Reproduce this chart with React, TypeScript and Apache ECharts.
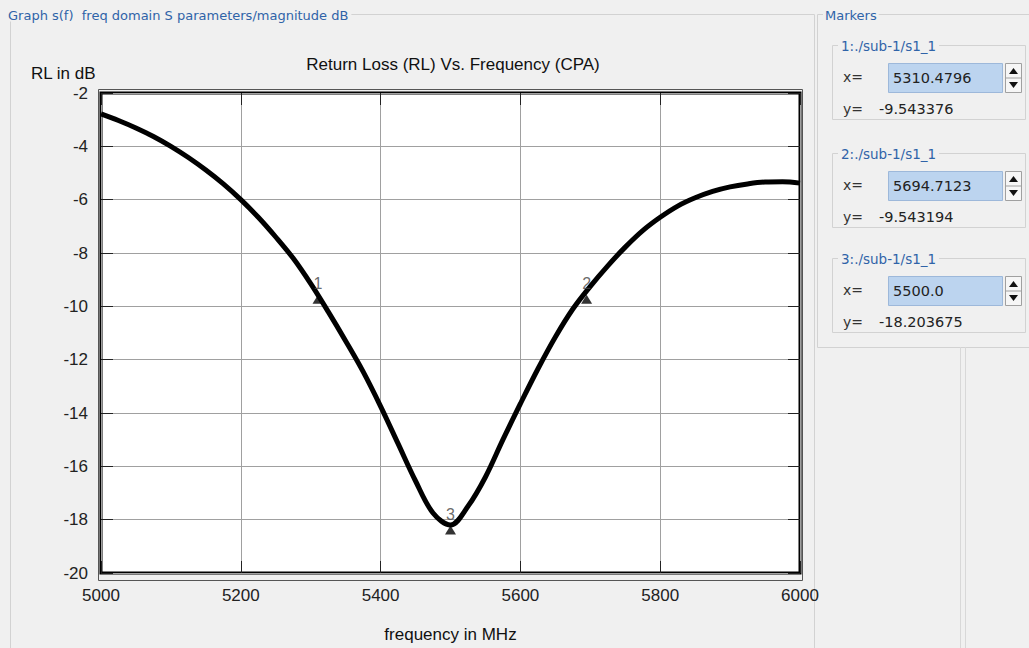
import React, { useEffect, useRef } from "react";
import * as echarts from "echarts";

// ---- data ----
const freqMHz = [
  5000, 5025, 5050, 5075, 5100, 5125, 5150, 5175, 5200, 5225, 5250, 5275, 5300,
  5325, 5350, 5375, 5400, 5425, 5450, 5475, 5500, 5525, 5550, 5575, 5600, 5625,
  5650, 5675, 5700, 5725, 5750, 5775, 5800, 5825, 5850, 5875, 5900, 5925, 5950,
  5975, 6000,
];
const rlDb = [
  -2.78, -3.03, -3.31, -3.63, -4.0, -4.42, -4.89, -5.41, -6.0, -6.66, -7.4, -8.2, -9.15,
  -10.2, -11.3, -12.45, -13.75, -15.15, -16.55, -17.75, -18.2, -17.5, -16.4, -15.0, -13.65, -12.35,
  -11.15, -10.1, -9.25, -8.48, -7.78, -7.16, -6.66, -6.24, -5.93, -5.69, -5.52, -5.41, -5.34,
  -5.33, -5.38,
];
const markerIds = ["1", "2", "3"];
const markerFreq = [5310.4796, 5694.7123, 5500.0];
const markerRl = [-9.543376, -9.543194, -18.203675];
const markerXText = ["5310.4796", "5694.7123", "5500.0"];
const markerYText = ["-9.543376", "-9.543194", "-18.203675"];
const markerPath = "./sub-1/s1_1";
const xMin = 5000, xMax = 6000, xStep = 200;
const yMin = -20, yMax = -2, yStep = 2;
const chartTitle = "Return Loss (RL) Vs. Frequency (CPA)";
const xName = "frequency in MHz";
const yName = "RL in dB";
const panelTitle = "Graph s(f)  freq domain S parameters/magnitude dB";
const markersTitle = "Markers";

const panelFont = '"DejaVu Sans", sans-serif';
const chartFont = '"Liberation Sans", Arial, sans-serif';
const blue = "#2f63a8";
const bg = "#f0f0f0";
const frameColor = "#d2d2d2";

function buildGraphics() {
  const g: any[] = [];
  // left group box
  g.push({ type: "rect", silent: true, shape: { x: 10.5, y: 14.5, width: 804, height: 700 }, style: { fill: "none", stroke: frameColor, lineWidth: 1 } });
  g.push({ type: "text", silent: true, x: 5, y: 15, style: { text: panelTitle, fill: blue, font: `13px ${panelFont}`, verticalAlign: "middle", backgroundColor: bg, padding: [0, 3] } });
  // markers group box
  g.push({ type: "rect", silent: true, shape: { x: 817.5, y: 14.5, width: 220, height: 333 }, style: { fill: "none", stroke: frameColor, lineWidth: 1 } });
  g.push({ type: "text", silent: true, x: 823, y: 15, style: { text: markersTitle, fill: blue, font: `13px ${panelFont}`, verticalAlign: "middle", backgroundColor: bg, padding: [0, 2] } });
  // splitter lines
  g.push({ type: "line", silent: true, shape: { x1: 960.5, y1: 347, x2: 960.5, y2: 648 }, style: { stroke: "#d8d8d8", lineWidth: 1 } });
  g.push({ type: "line", silent: true, shape: { x1: 965.5, y1: 347, x2: 965.5, y2: 648 }, style: { stroke: "#d8d8d8", lineWidth: 1 } });
  // plot outer frame
  g.push({ type: "rect", silent: true, z: 10, shape: { x: 98.5, y: 89.5, width: 704, height: 491 }, style: { fill: "none", stroke: "#555", lineWidth: 1 } });

  const tops = [45, 153, 258];
  markerIds.forEach((id, i) => {
    const t = tops[i];
    g.push({ type: "rect", silent: true, shape: { x: 832.5, y: t + 0.5, width: 193, height: 74 }, style: { fill: "none", stroke: frameColor, lineWidth: 1 } });
    g.push({ type: "text", silent: true, x: 838, y: t + 1, style: { text: `${id}:${markerPath}`, fill: blue, font: `13.5px ${panelFont}`, verticalAlign: "middle", backgroundColor: bg, padding: [0, 3] } });
    g.push({ type: "text", silent: true, x: 843, y: t + 32, style: { text: "x=", fill: "#333", font: `14px ${panelFont}`, verticalAlign: "middle" } });
    g.push({ type: "rect", silent: true, shape: { x: 888.5, y: t + 18.5, width: 114, height: 29 }, style: { fill: "#bcd4ef", stroke: "#9db8da", lineWidth: 1 } });
    g.push({ type: "text", silent: true, x: 893, y: t + 33, style: { text: markerXText[i], fill: "#222", font: `14.5px ${panelFont}`, verticalAlign: "middle" } });
    g.push({ type: "rect", silent: true, shape: { x: 1005.5, y: t + 18.5, width: 16, height: 29 }, style: { fill: "#f6f6f6", stroke: "#a0a0a0", lineWidth: 1 } });
    g.push({ type: "line", silent: true, shape: { x1: 1005.5, y1: t + 33, x2: 1021.5, y2: t + 33 }, style: { stroke: "#a0a0a0", lineWidth: 1 } });
    g.push({ type: "polygon", silent: true, shape: { points: [[1009, t + 29], [1018, t + 29], [1013.5, t + 23]] }, style: { fill: "#111" } });
    g.push({ type: "polygon", silent: true, shape: { points: [[1009, t + 37], [1018, t + 37], [1013.5, t + 43]] }, style: { fill: "#111" } });
    g.push({ type: "text", silent: true, x: 843, y: t + 64, style: { text: "y=", fill: "#333", font: `14px ${panelFont}`, verticalAlign: "middle" } });
    g.push({ type: "text", silent: true, x: 879, y: t + 64, style: { text: markerYText[i], fill: "#222", font: `14.5px ${panelFont}`, verticalAlign: "middle" } });
  });

  g.push({ type: "text", silent: true, x: 31, y: 73, style: { text: yName, fill: "#111", font: `17px ${chartFont}`, verticalAlign: "middle" } });
  return g;
}

export default function App() {
  const ref = useRef<HTMLDivElement>(null);
  useEffect(() => {
    if (!ref.current) return;
    const chart = echarts.init(ref.current, undefined, { renderer: "svg" });
    const curve = freqMHz.map((f, i) => [f, rlDb[i]]);
    const markers = markerFreq.map((f, i) => ({ name: markerIds[i], value: [f, markerRl[i]] }));
    const tickStyle = { show: true, inside: true, length: 12, lineStyle: { color: "#222", width: 1 } };
    chart.setOption({
      animation: false,
      backgroundColor: bg,
      title: {
        text: chartTitle,
        left: 448,
        top: 51,
        textAlign: "center",
        textStyle: { fontFamily: chartFont, fontSize: 17, fontWeight: "normal", color: "#111" },
      },
      grid: {
        left: 101, top: 93, width: 699, height: 485,
        show: true, backgroundColor: "#fff", borderColor: "#000", borderWidth: 3,
      },
      xAxis: [
        {
          type: "value", min: xMin, max: xMax, interval: xStep,
          name: xName, nameLocation: "middle", nameGap: 53,
          nameTextStyle: { fontFamily: chartFont, fontSize: 17, color: "#111" },
          axisLine: { show: false },
          axisTick: tickStyle,
          axisLabel: { fontFamily: chartFont, fontSize: 17, color: "#222", margin: 14, formatter: (v: number) => String(v) },
          splitLine: { show: true, lineStyle: { color: "#a0a0a0", width: 1 } },
        },
        {
          type: "value", min: xMin, max: xMax, interval: xStep, position: "top",
          axisLine: { show: false }, axisTick: tickStyle, axisLabel: { show: false }, splitLine: { show: false },
        },
      ],
      yAxis: [
        {
          type: "value", min: yMin, max: yMax, interval: yStep,
          axisLine: { show: false },
          axisTick: tickStyle,
          axisLabel: { fontFamily: chartFont, fontSize: 17, color: "#222", margin: 13, formatter: (v: number) => String(v) },
          splitLine: { show: true, lineStyle: { color: "#a0a0a0", width: 1 } },
        },
        {
          type: "value", min: yMin, max: yMax, interval: yStep, position: "right",
          axisLine: { show: false }, axisTick: tickStyle, axisLabel: { show: false }, splitLine: { show: false },
        },
      ],
      series: [
        {
          type: "line", data: curve, smooth: 0.35, showSymbol: false, symbol: "none",
          lineStyle: { color: "#000", width: 5 }, z: 3,
        },
        {
          type: "scatter", data: markers, symbol: "triangle", symbolSize: [11, 9], symbolOffset: [0, 5],
          itemStyle: { color: "#000" }, z: 4,
          label: {
            show: true, position: "top", distance: 3, formatter: (p: any) => p.name,
            fontFamily: chartFont, fontSize: 16, color: "#444",
          },
        },
      ],
      graphic: { elements: buildGraphics() },
    });
    return () => chart.dispose();
  }, []);
  return (
    <div
      ref={ref}
      style={{ position: "absolute", left: 0, top: 0, width: 1029, height: 648, background: bg }}
    />
  );
}
